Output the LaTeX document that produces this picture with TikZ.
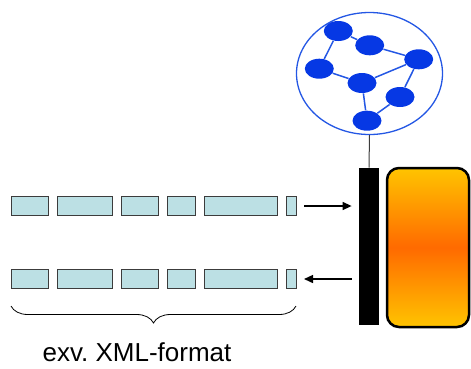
\documentclass[tikz,border=0pt]{standalone}
\usepackage{fontspec}
\setmainfont{Liberation Sans}
\usetikzlibrary{arrows.meta,positioning,shapes.geometric,decorations.pathreplacing}
\definecolor{cellfill}{HTML}{BCE0E4}
\definecolor{cellline}{HTML}{3C3C3C}
\definecolor{netblue}{HTML}{2457E4}
\definecolor{dotblue}{HTML}{0638E4}
\definecolor{deviceA}{HTML}{FFC400}
\definecolor{deviceB}{HTML}{FF6A00}

\begin{document}
\begin{tikzpicture}[x=1pt, y=-1pt, >={Triangle[length=9pt,width=8pt]}, thick,
  cell/.style={draw=cellline, fill=cellfill, line width=0.9pt, minimum height=19pt, inner sep=0pt},
  dot/.style={ellipse, fill=dotblue, minimum width=29pt, minimum height=20pt, inner sep=0pt},
  link/.style={draw=netblue, line width=1.5pt}]
\useasboundingbox (0,0) rectangle (471,368);
% records going out and coming back
\foreach \x/\w [count=\i] in {29.5/37, 84.5/55, 139.5/37, 181/28, 240.5/73, 291/10} {
  \node[cell, minimum width=\w pt] (out\i) at (\x,205.5) {};
  \node[cell, minimum width=\w pt] (in\i) at (\x,278.5) {};
}
% interface bar and the system
\node[fill=black, minimum width=20pt, minimum height=157pt, inner sep=0pt] (bar) at (369,246.5) {};
\node[draw=black, line width=2.5pt, rounded corners=12pt, minimum width=82pt, minimum height=159pt,
      inner sep=0pt, top color=deviceA, bottom color=deviceA, middle color=deviceB] (sys) at (428,247.5) {};
% the network
\node[ellipse, draw=netblue, line width=1.3pt, minimum width=146pt, minimum height=122pt, inner sep=0pt] (web) at (369.5,73.5) {};
\node[dot] (p1) at (338.3,31) {};
\node[dot] (p2) at (369.7,45.3) {};
\node[dot] (p3) at (418.7,59.3) {};
\node[dot] (p4) at (319.3,68.7) {};
\node[dot] (p5) at (362,83) {};
\node[dot] (p6) at (400,97) {};
\node[dot] (p7) at (367,120.7) {};
\path[link] (p1) -- (p2) (p1) -- (p4) (p2) -- (p3) (p4) -- (p5)
  (p5) -- (p3) (p3) -- (p6) (p5) -- (p7) (p6) -- (p7);
\draw[cellline, line width=1pt] (web.south) -- (bar.north);
% arrows
\coordinate (outend) at (304,206);
\coordinate (inend) at (304,279);
\draw[->, line width=1.4pt, shorten >=7pt] (outend) -- (outend -| bar.west);
\draw[->, line width=1.4pt, shorten <=7pt] (inend -| bar.west) -- (inend);
% brace and caption
\coordinate (bl) at (11,306);
\coordinate (br) at (296,306);
\draw[decorate, decoration={brace, mirror, amplitude=17pt}, line width=0.8pt] (bl) -- (br);
\node[font=\fontsize{26}{30}\selectfont, anchor=base, inner sep=0pt, text depth=0pt] (fmt) at (137,361.5) {exv.\ XML-format};
\end{tikzpicture}
\end{document}
